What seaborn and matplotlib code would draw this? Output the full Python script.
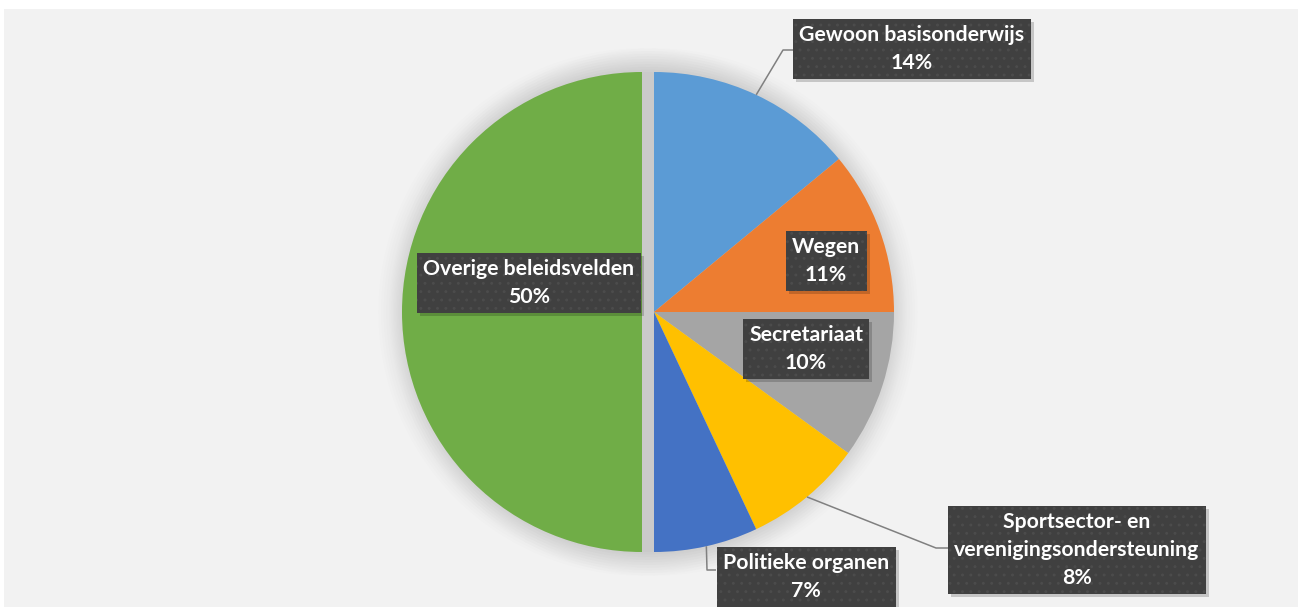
import matplotlib
matplotlib.use("Agg")
import matplotlib.pyplot as plt
import matplotlib.transforms as mtransforms
from matplotlib.patches import Circle, Rectangle
import numpy as np
import seaborn as sns

# ---- data ----
categories = ["Gewoon basisonderwijs", "Wegen", "Secretariaat",
              "Sportsector- en\nverenigingsondersteuning", "Politieke organen",
              "Overige beleidsvelden"]
values = [14, 11, 10, 8, 7, 50]
pct_labels = ["14%", "11%", "10%", "8%", "7%", "50%"]
colors = ["#5B9BD5", "#ED7D31", "#A5A5A5", "#FFC000", "#4472C4", "#70AD47"]
explode = [0, 0, 0, 0, 0, 0.05]

sns.set_theme(style="white")
plt.rcParams["font.family"] = ["Lato", "DejaVu Sans"]
plt.rcParams["hatch.linewidth"] = 0.9

W, H, DPI = 1298, 607, 100
fig = plt.figure(figsize=(W / DPI, H / DPI), dpi=DPI)
fig.patch.set_facecolor("white")
fig.patches.append(Rectangle((4 / W, 0), 1, 1 - 9 / H, transform=fig.transFigure,
                             facecolor="#F2F2F2", edgecolor="none", zorder=-10))
ax = fig.add_axes([0, 0, 1, 1])
ax.set_facecolor("none")
ax.set_zorder(1)
scale = 240.0
cx, cy = 654.0, 312.0

# soft glow / shadow behind pie
for c in [(0, 0), (-0.05, 0)]:
    for i in range(10):
        ax.add_patch(Circle(c, 1.0 + 0.011 * i, facecolor="black", alpha=0.008,
                            edgecolor="none", zorder=1))

wedges, _ = ax.pie(values, colors=colors, explode=explode, startangle=90,
                   counterclock=False, radius=1.0, center=(0, 0),
                   wedgeprops=dict(linewidth=0))
for w in wedges:
    w.set_zorder(2)

ax.set_xlim(-cx / scale, (W - cx) / scale)
ax.set_ylim(-(H - cy) / scale, cy / scale)
ax.set_aspect("equal")
ax.axis("off")

def px(x, y):
    return ((x - cx) / scale, (cy - y) / scale)

label_pos = [px(912, 49), px(826, 261), px(806, 349), px(1077, 550),
             px(806, 577), px(529, 283)]

# leader lines: (index, elbow pixel, end pixel)
leaders = [(0, (783, 50), (793, 50)),
           (3, (936, 548), (948, 548)),
           (4, (707, 570), (716, 570))]
for idx, elb, end in leaders:
    w = wedges[idx]
    ang = np.deg2rad((w.theta1 + w.theta2) / 2)
    x0 = w.center[0] + np.cos(ang) * 1.0
    y0 = w.center[1] + np.sin(ang) * 1.0
    e1, e2 = px(*elb), px(*end)
    ax.plot([x0, e1[0], e2[0]], [y0, e1[1], e2[1]], color="#808080",
            lw=1.1, zorder=3, solid_capstyle="butt")

texts = []
for name, pct, (x, y) in zip(categories, pct_labels, label_pos):
    t = ax.text(x, y, f"{name}\n{pct}", color="white", zorder=5,
                ha="center", va="center", fontsize=15.3, fontweight="bold",
                linespacing=1.5,
                bbox=dict(boxstyle="square,pad=0.3", facecolor="#404040",
                          edgecolor="#4C4C4C", linewidth=0, hatch=".."))
    texts.append(t)

# box shadows (drawn in display coordinates, offset down-right)
fig.canvas.draw()
renderer = fig.canvas.get_renderer()
for t in texts:
    bb = t.get_bbox_patch().get_window_extent(renderer)
    ax.add_patch(Rectangle((bb.x0 + 3, bb.y0 - 3), bb.width, bb.height,
                           transform=mtransforms.IdentityTransform(),
                           facecolor="black", alpha=0.18, linewidth=0, zorder=4))

fig.savefig("out.png", dpi=DPI, facecolor=fig.get_facecolor())
